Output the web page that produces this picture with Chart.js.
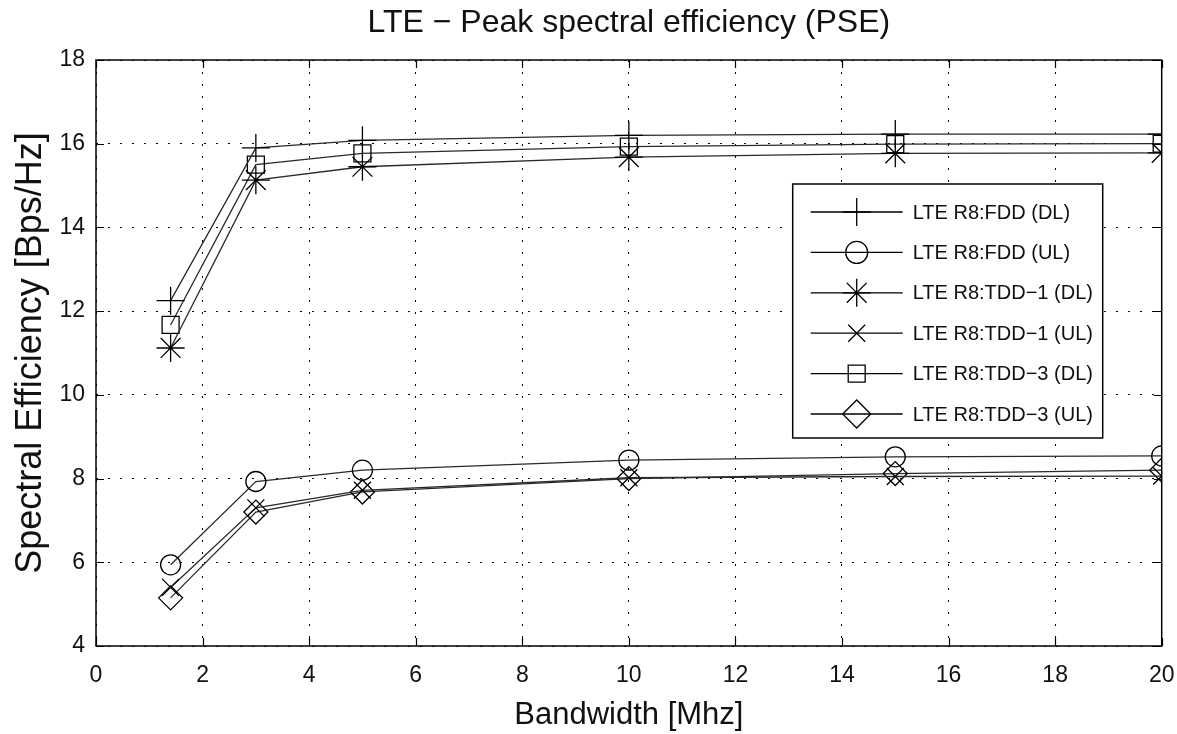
<!DOCTYPE html>
<html>
<head>
<meta charset="utf-8">
<title>LTE - Peak spectral efficiency</title>
<script src="https://cdn.jsdelivr.net/npm/chart.js@4/dist/chart.umd.min.js"></script>
<style>
  html, body { margin: 0; padding: 0; background: #fff; }
  #wrap { width: 1177px; height: 734px; position: relative; }
</style>
</head>
<body>
<div id="wrap"><canvas id="pse"></canvas></div>
<script>
// bandwidth points (MHz)
var bandwidth = [1.4, 3, 5, 10, 15, 20];

// peak spectral efficiency per scheme [Bps/Hz]
var fddDL  = [12.25, 15.9, 16.08, 16.2, 16.23, 16.23];
var fddUL  = [5.94, 7.93, 8.2, 8.44, 8.52, 8.54];
var tdd1DL = [11.12, 15.13, 15.45, 15.68, 15.77, 15.78];
var tdd1UL = [5.4, 7.3, 7.72, 8.02, 8.05, 8.06];
var tdd3DL = [11.67, 15.5, 15.77, 15.93, 15.99, 16.0];
var tdd3UL = [5.15, 7.2, 7.68, 8.0, 8.12, 8.2];

var seriesNames = ['LTE R8:FDD (DL)', 'LTE R8:FDD (UL)', 'LTE R8:TDD\u22121 (DL)',
                   'LTE R8:TDD\u22121 (UL)', 'LTE R8:TDD\u22123 (DL)', 'LTE R8:TDD\u22123 (UL)'];
var seriesValues = [fddDL, fddUL, tdd1DL, tdd1UL, tdd3DL, tdd3UL];

var xTicks = [0, 2, 4, 6, 8, 10, 12, 14, 16, 18, 20];
var yTicks = [4, 6, 8, 10, 12, 14, 16, 18];

var markers = ['cross', 'circle', 'star', 'crossRot', 'rect', 'rectRot'];
var markerSize = [14, 10, 14, 12, 12, 12];
var legendSize = [14, 11, 14, 12, 12, 14];

var font = "'Liberation Sans', Arial, sans-serif";

var datasets = [];
for (var i = 0; i < seriesValues.length; i++) {
  var pts = [];
  for (var j = 0; j < bandwidth.length; j++) {
    pts.push({ x: bandwidth[j], y: seriesValues[i][j] });
  }
  datasets.push({
    label: seriesNames[i],
    data: pts,
    borderColor: '#2a2a2a',
    borderWidth: 1.3,
    tension: 0,
    fill: false,
    pointStyle: markers[i],
    pointRadius: markerSize[i],
    pointHoverRadius: markerSize[i],
    pointBorderColor: '#000',
    pointBorderWidth: 1.3,
    pointBackgroundColor: 'rgba(0,0,0,0)'
  });
}

// box round the plot + inward ticks, matlab style
var frame = {
  id: 'frame',
  afterDatasetsDraw: function(chart) {
    var ctx = chart.ctx, a = chart.chartArea;
    var xs = chart.scales.x, ys = chart.scales.y;
    ctx.save();
    ctx.strokeStyle = '#000';
    ctx.lineWidth = 1.5;
    ctx.setLineDash([]);
    ctx.strokeRect(a.left, a.top, a.right - a.left, a.bottom - a.top);
    ctx.lineWidth = 1.2;
    ctx.beginPath();
    xTicks.forEach(function(v) {
      var px = Math.round(xs.getPixelForValue(v)) + 0.5;
      ctx.moveTo(px, a.bottom); ctx.lineTo(px, a.bottom - 8);
      ctx.moveTo(px, a.top); ctx.lineTo(px, a.top + 8);
    });
    yTicks.forEach(function(v) {
      var py = Math.round(ys.getPixelForValue(v)) + 0.5;
      ctx.moveTo(a.left, py); ctx.lineTo(a.left + 8, py);
      ctx.moveTo(a.right, py); ctx.lineTo(a.right - 8, py);
    });
    ctx.stroke();
    ctx.restore();
  }
};

// legend box inside the plot, line + marker sample
var boxLegend = {
  id: 'boxLegend',
  afterDraw: function(chart) {
    var ctx = chart.ctx, a = chart.chartArea;
    var right = a.right - 59, top = a.top + 124;
    var left = right - 310, bottom = top + 254;
    ctx.save();
    ctx.fillStyle = '#fff';
    ctx.fillRect(left, top, right - left, bottom - top);
    ctx.strokeStyle = '#000';
    ctx.lineWidth = 1.5;
    ctx.strokeRect(left, top, right - left, bottom - top);
    ctx.font = '20px ' + font;
    ctx.textBaseline = 'middle';
    ctx.textAlign = 'left';
    chart.data.datasets.forEach(function(ds, k) {
      var y = top + 28 + k * 40.4;
      ctx.strokeStyle = '#000';
      ctx.lineWidth = 1.3;
      ctx.beginPath();
      ctx.moveTo(left + 18, y);
      ctx.lineTo(left + 110, y);
      ctx.stroke();
      ctx.fillStyle = 'rgba(0,0,0,0)';
      if (Chart.helpers && Chart.helpers.drawPoint) {
        Chart.helpers.drawPoint(ctx, {
          pointStyle: ds.pointStyle, rotation: 0,
          radius: legendSize[k], borderWidth: 1.3
        }, left + 64, y);
      }
      ctx.fillStyle = '#111';
      ctx.fillText(ds.label, left + 120, y + 1);
    });
    ctx.restore();
  }
};

new Chart(document.getElementById('pse'), {
  type: 'line',
  data: { datasets: datasets },
  plugins: [frame, boxLegend],
  options: {
    responsive: true,
    maintainAspectRatio: false,
    animation: false,
    layout: { padding: 0 },
    plugins: {
      legend: { display: false },
      tooltip: { enabled: false },
      title: {
        display: true,
        fullSize: false,
        text: 'LTE \u2212 Peak spectral efficiency (PSE)',
        color: '#111',
        font: { family: font, size: 32, weight: 'normal', lineHeight: 1.2 },
        padding: { top: 4, bottom: 17.6 }
      }
    },
    scales: {
      x: {
        type: 'linear',
        min: 0, max: 20,
        afterBuildTicks: function(s) { s.ticks = xTicks.map(function(v) { return { value: v }; }); },
        afterFit: function(s) { s.height = 88; s.paddingLeft = 0; s.paddingRight = 15; },
        grid: { color: '#000', lineWidth: 1, drawTicks: false },
        border: { display: false, dash: [2, 10] },
        ticks: { color: '#111', padding: 16, maxRotation: 0, font: { family: font, size: 23 } },
        title: {
          display: true, text: 'Bandwidth [Mhz]', color: '#111',
          font: { family: font, size: 31 }, padding: { top: 0, bottom: 0 }
        }
      },
      y: {
        min: 4, max: 18,
        afterBuildTicks: function(s) { s.ticks = yTicks.map(function(v) { return { value: v }; }); },
        afterFit: function(s) { s.width = 96; },
        grid: { color: '#000', lineWidth: 1, drawTicks: false },
        border: { display: false, dash: [2, 10] },
        ticks: { color: '#111', padding: 11, font: { family: font, size: 23 } },
        title: {
          display: true, text: 'Spectral Efficiency [Bps/Hz]', color: '#111',
          font: { family: font, size: 36 }, padding: { top: 9, bottom: 0 }
        }
      }
    }
  }
});
</script>
</body>
</html>
